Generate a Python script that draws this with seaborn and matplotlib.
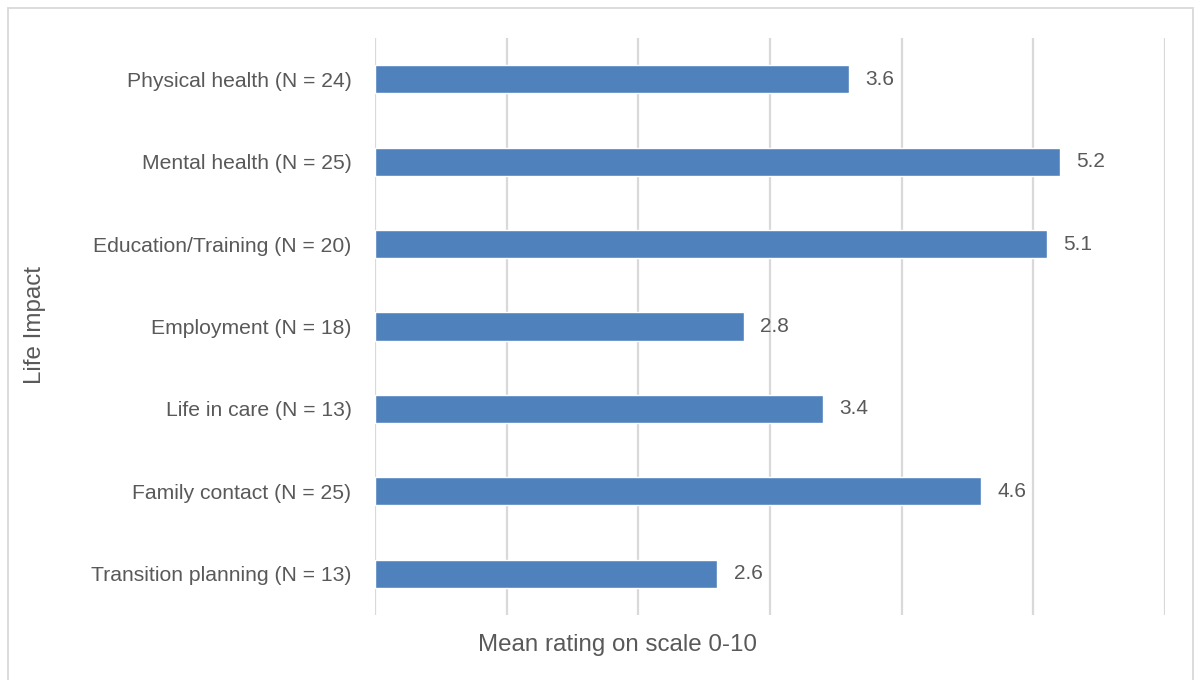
import matplotlib
matplotlib.use("Agg")
import matplotlib.pyplot as plt
import seaborn as sns
import pandas as pd
from matplotlib.patches import Rectangle

categories = ["Physical health (N = 24)", "Mental health (N = 25)", "Education/Training (N = 20)",
              "Employment (N = 18)", "Life in care (N = 13)", "Family contact (N = 25)",
              "Transition planning (N = 13)"]
values = [3.6, 5.2, 5.1, 2.8, 3.4, 4.6, 2.6]
x_title = "Mean rating on scale 0-10"
y_title = "Life Impact"

df = pd.DataFrame({"cat": categories, "val": values})

sns.set_theme(style="white")
plt.rcParams['font.family'] = ['Liberation Sans', 'DejaVu Sans']
txt = "#595959"

fig = plt.figure(figsize=(11.98, 6.8), dpi=100)
ax = fig.add_axes([375/1198, 1-615/680, (1165-375)/1198, (615-38)/680])
sns.barplot(data=df, x="val", y="cat", orient="h", color="#4F81BD", saturation=1,
            width=0.34, ax=ax)
ax.set_xlim(0, 6)
ax.set_ylim(6.5, -0.5)
ax.set_xticks(range(0, 7))
ax.set_xticklabels([])
ax.grid(axis="x", color="#d9d9d9", linewidth=1.6)
ax.set_axisbelow(True)
for s in ax.spines.values():
    s.set_visible(False)
ax.tick_params(axis="both", length=0)
ax.tick_params(axis="y", labelsize=15.2, labelcolor=txt, pad=17)
ax.set_xlabel("")
ax.set_ylabel("")
fig.text(617/1198, 1-645/680, x_title, fontsize=17.4, color=txt, ha="center", va="center")
fig.text(35/1198, 1-325/680, y_title, rotation=90, fontsize=17.4, color=txt,
         ha="center", va="center")
for c in ax.containers:
    ax.bar_label(c, labels=[f"{v:.1f}" for v in values], padding=12, fontsize=15, color=txt)

fig.patches.append(Rectangle((8/1198, -0.1), (1193-8)/1198, 1.1 - 8/680, transform=fig.transFigure,
                             fill=False, edgecolor="#d9d9d9", linewidth=1.3))
fig.savefig("out.png", dpi=100, facecolor="white")
